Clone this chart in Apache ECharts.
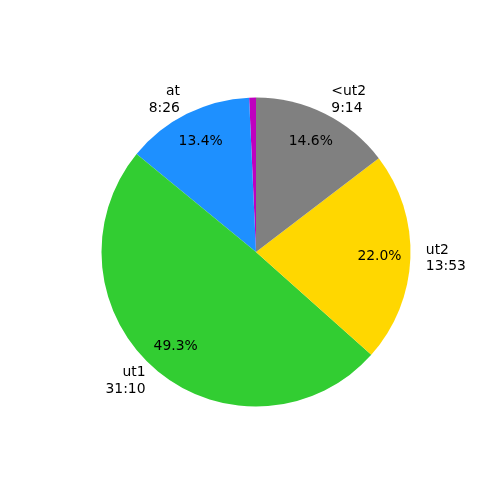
<!DOCTYPE html>
<html>
<head>
<meta charset="utf-8">
<script src="https://cdn.jsdelivr.net/npm/echarts@6/dist/echarts.min.js"></script>
<style>html,body{margin:0;padding:0;background:#fff}#c{width:500px;height:500px}</style>
</head>
<body>
<div id="c"></div>
<script>
const categories = ['', 'at', 'ut1', 'ut2', '<ut2'];
const values = [27, 506, 1870, 833, 554];
const timeLabels = ['', '8:26', '31:10', '13:53', '9:14'];
const colors = ['#BF00BF', '#1E90FF', '#32CD32', '#FFD700', '#808080'];

const total = values.reduce((a, b) => a + b, 0);
const R = 154.5;
const center = [256, 252];
const font = 'DejaVu Sans';
const fs = 13.9;

const mainData = categories.map((c, i) => ({
  name: c || ('x' + i), value: values[i], itemStyle: { color: colors[i] },
  label: { formatter: c ? c + '\n' + timeLabels[i] : '' }
}));
const pctData = categories.map((c, i) => ({
  name: c || ('x' + i), value: values[i],
  label: { formatter: c ? (values[i] / total * 100).toFixed(1) + '%' : '' }
}));

const chart = echarts.init(document.getElementById('c'), null, { renderer: 'canvas' });
chart.setOption({
  animation: false,
  series: [
    {
      type: 'pie', center: center, radius: [0, R], startAngle: 90, clockwise: false,
      avoidLabelOverlap: false, silent: true,
      itemStyle: { borderWidth: 0 },
      label: { show: true, position: 'outside', color: '#000', fontFamily: font, fontSize: fs,
               lineHeight: 16.5, distanceToLabelLine: 0 },
      labelLine: { show: false, length: R * 0.1, length2: 0 },
      data: mainData
    },
    {
      type: 'pie', center: center, radius: [R * 0.6 - 6, R], startAngle: 90, clockwise: false,
      avoidLabelOverlap: false, silent: true,
      itemStyle: { color: 'rgba(0,0,0,0)', borderWidth: 0 },
      label: { show: true, position: 'inside', color: '#000', fontFamily: font, fontSize: fs },
      labelLine: { show: false },
      data: pctData
    }
  ]
});
</script>
</body>
</html>
